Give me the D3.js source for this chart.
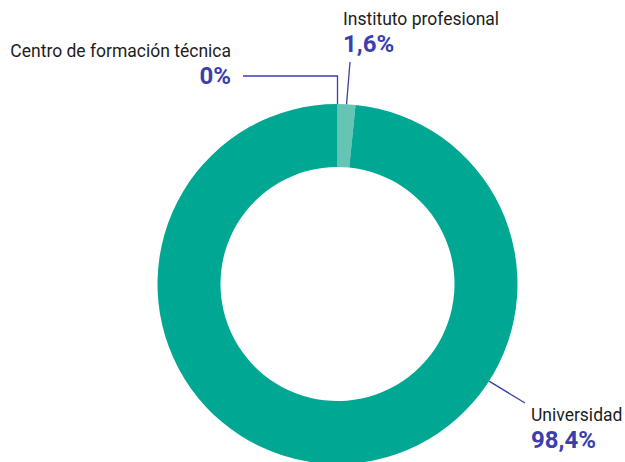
<!DOCTYPE html>
<html>
<head>
<meta charset="utf-8">
<script src="https://cdn.jsdelivr.net/npm/d3@7"></script>
<style>
  body { margin: 0; background: #fff; }
  svg { display: block; }
  text { font-family: Roboto, "Noto Sans", sans-serif; }
</style>
</head>
<body>
<svg id="chart"></svg>
<script>
const width = 625;
const height = 462;

const categories = ['Centro de formación técnica', 'Instituto profesional', 'Universidad'];
const values = [0, 1.6, 98.4];
const valueLabels = ['0%', '1,6%', '98,4%'];

const cx = 337.5;
const cy = 284;
const outerR = 180;
const innerR = 117;

const svg = d3.select('#chart')
            .attr('width', width)
            .attr('height', height);

const color = d3.scaleOrdinal()
    .domain(categories)
    .range(['#8fd3c7', '#66c4b4', '#00a893']);

const pie = d3.pie().sort(null).value(d => d.value);
const arc = d3.arc().innerRadius(innerR).outerRadius(outerR);

const data = categories.map((c, i) => ({ name: c, value: values[i], label: valueLabels[i] }));
const arcs = pie(data);

const g = svg.append('g').attr('transform', `translate(${cx}, ${cy})`);

g.selectAll('path')
  .data(arcs)
  .enter()
  .append('path')
  .attr('d', arc)
  .attr('fill', d => color(d.data.name));

// point on outer edge of the ring at angle a (radians, clockwise from top)
function edge(a) {
  return [cx + outerR * Math.sin(a), cy - outerR * Math.cos(a)];
}

const lineColor = '#3b3fae';
const lines = svg.append('g')
  .attr('fill', 'none')
  .attr('stroke', lineColor)
  .attr('stroke-width', 1.3);

// Centro de formación técnica (0%)
const p0 = edge(arcs[0].startAngle);
lines.append('path')
  .attr('d', `M${p0[0]},${p0[1]} V76 H243`);

// Instituto profesional
const a1 = (arcs[1].startAngle + arcs[1].endAngle) / 2;
const p1 = edge(a1);
lines.append('path')
  .attr('d', `M${p1[0]},${p1[1]} L350,62`);

// Universidad
const p2 = edge(arcs[2].startAngle + (arcs[2].endAngle - arcs[2].startAngle) * 0.33);
lines.append('path')
  .attr('d', `M${p2[0]},${p2[1]} L525,403`);

const labelPos = [
  { x: 231, y: 57, y2: 84, anchor: 'end' },
  { x: 343, y: 25, y2: 52, anchor: 'start' },
  { x: 531, y: 421, y2: 448, anchor: 'start' }
];

const labels = svg.selectAll('.lbl')
  .data(arcs)
  .enter()
  .append('g')
  .attr('class', 'lbl');

labels.append('text')
  .attr('x', (d, i) => labelPos[i].x)
  .attr('y', (d, i) => labelPos[i].y)
  .attr('text-anchor', (d, i) => labelPos[i].anchor)
  .attr('font-size', 17.5)
  .attr('fill', '#1d1d1d')
  .text(d => d.data.name);

labels.append('text')
  .attr('x', (d, i) => labelPos[i].x)
  .attr('y', (d, i) => labelPos[i].y2)
  .attr('text-anchor', (d, i) => labelPos[i].anchor)
  .attr('font-size', 24)
  .attr('font-weight', 'bold')
  .attr('fill', lineColor)
  .text(d => d.data.label);
</script>
</body>
</html>
